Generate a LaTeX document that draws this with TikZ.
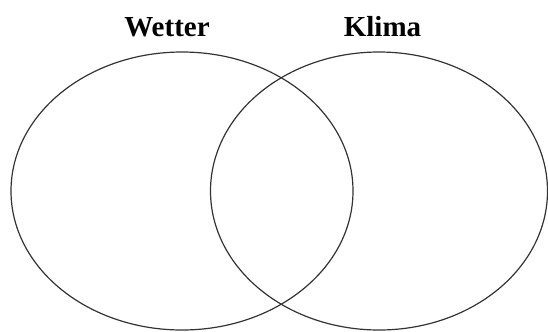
\documentclass[tikz,border=0pt]{standalone}
\usepackage{fontspec}
\setmainfont{Liberation Serif}
\usetikzlibrary{shapes.geometric}
\begin{document}
\begin{tikzpicture}[x=1bp,y=-1bp,
  setring/.style={draw=black!80, line width=1.2bp, ellipse, inner sep=0pt, outer sep=0pt},
  setlabel/.style={font=\fontsize{29bp}{32bp}\selectfont\bfseries, anchor=base, inner sep=0pt}]
\useasboundingbox (0,0) rectangle (548,331);
\node[setring, minimum width=342bp, minimum height=278bp] (wetterring) at (182,191) {};
\node[setring, minimum width=337bp, minimum height=278bp] (klimaring) at (379,191) {};
\node[setlabel] (wetter) at (167,36) {Wetter};
\node[setlabel] (klima) at (382.5,36) {Klima};
\end{tikzpicture}
\end{document}
